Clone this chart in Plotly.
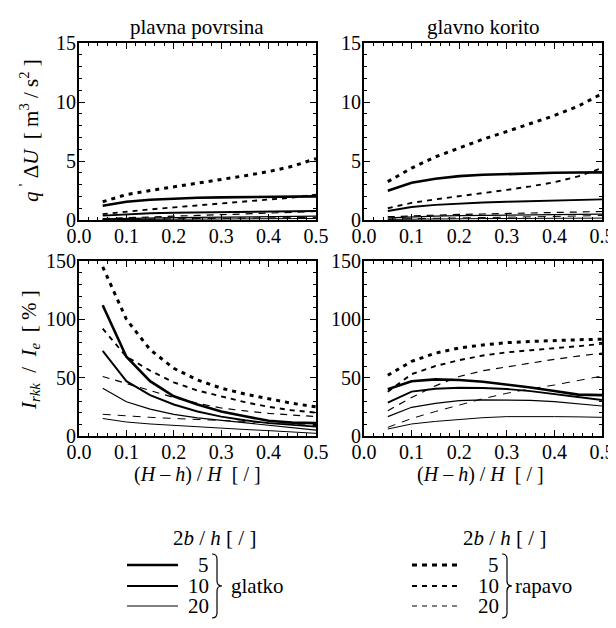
import plotly.graph_objects as go

# page is 616x628; the html body has an 8px margin, so the figure is 600x612
PAGE_OFF = 8
W, H = 600, 612

# ---------------- data ----------------
rel_depth = [0.05, 0.10, 0.15, 0.20, 0.25, 0.30, 0.35, 0.40, 0.45, 0.50]
ratios = ["5", "10", "20", "40"]

# q' dU  [m3/s2] - plavna povrsina (floodplain)
fp_q_smooth = {
    "5":  [1.20, 1.55, 1.72, 1.83, 1.88, 1.92, 1.94, 1.96, 1.98, 2.00],
    "10": [0.37, 0.50, 0.57, 0.62, 0.65, 0.67, 0.69, 0.71, 0.73, 0.76],
    "20": [0.10, 0.15, 0.18, 0.20, 0.22, 0.24, 0.26, 0.28, 0.30, 0.32],
    "40": [0.03, 0.05, 0.06, 0.07, 0.08, 0.09, 0.10, 0.11, 0.12, 0.13],
}
fp_q_rough = {
    "5":  [1.55, 2.15, 2.50, 2.80, 3.10, 3.45, 3.75, 4.10, 4.55, 5.20],
    "10": [0.50, 0.73, 0.90, 1.07, 1.24, 1.40, 1.55, 1.70, 1.90, 2.15],
    "20": [0.12, 0.20, 0.27, 0.33, 0.39, 0.45, 0.51, 0.57, 0.64, 0.72],
    "40": [0.04, 0.06, 0.08, 0.10, 0.12, 0.14, 0.16, 0.18, 0.20, 0.22],
}
# q' dU - glavno korito (main channel)
mc_q_smooth = {
    "5":  [2.48, 3.16, 3.50, 3.72, 3.83, 3.90, 3.95, 4.00, 4.02, 4.04],
    "10": [0.76, 1.10, 1.28, 1.40, 1.48, 1.55, 1.60, 1.65, 1.70, 1.75],
    "20": [0.18, 0.28, 0.33, 0.37, 0.40, 0.43, 0.45, 0.47, 0.49, 0.50],
    "40": [0.05, 0.08, 0.10, 0.11, 0.12, 0.13, 0.14, 0.15, 0.15, 0.16],
}
mc_q_rough = {
    "5":  [3.25, 4.40, 5.35, 6.10, 6.85, 7.50, 8.20, 8.85, 9.65, 10.70],
    "10": [1.00, 1.45, 1.75, 2.00, 2.25, 2.55, 2.85, 3.20, 3.70, 4.40],
    "20": [0.28, 0.36, 0.42, 0.47, 0.51, 0.55, 0.59, 0.63, 0.67, 0.72],
    "40": [0.08, 0.12, 0.15, 0.18, 0.21, 0.24, 0.27, 0.30, 0.34, 0.38],
}
# I_rkk / I_e [%] - plavna povrsina
fp_i_smooth = {
    "5":  [112, 68, 47, 34, 27, 21, 17, 13, 11.5, 11],
    "10": [73, 47, 35, 27, 21, 16.6, 13.5, 11, 9.5, 8],
    "20": [41, 29.4, 23, 18.6, 15.5, 13.5, 11.5, 9.5, 7.5, 5],
    "40": [15, 12, 10.3, 9, 7.8, 6.6, 5.6, 4.6, 3.5, 2.3],
}
fp_i_rough = {
    "5":  [145, 100, 74, 58, 48, 41, 36, 32, 28, 25],
    "10": [92, 68, 56, 46, 39, 34, 29, 25, 22, 20],
    "20": [51, 45, 39, 33, 28, 24, 21.5, 19.4, 18, 16.6],
    "40": [18.6, 17, 16, 15, 14.3, 13.7, 12.5, 11, 10, 9],
}
# I_rkk / I_e [%] - glavno korito
mc_i_smooth = {
    "5":  [40, 47, 48.5, 48, 46.5, 44.3, 41.5, 38.6, 35.5, 35],
    "10": [28.6, 38, 40.5, 41.4, 41.2, 40.3, 38.5, 36, 33.5, 30.9],
    "20": [16.6, 24.6, 28, 30.3, 30.9, 30.9, 30.5, 29.4, 27.8, 25.7],
    "40": [6, 10.3, 12.5, 14.3, 15.7, 16.6, 16.8, 16.6, 16.4, 16],
}
mc_i_rough = {
    "5":  [52, 64, 71, 75.5, 78, 80, 81, 82, 82.5, 83],
    "10": [38, 53, 60, 65, 69, 71.7, 73.5, 75, 77, 79],
    "20": [21.7, 33, 43, 51, 56, 59.4, 62.5, 65.7, 68.5, 71],
    "40": [7.4, 15, 21, 26.6, 32, 36.6, 40.5, 43.7, 47.5, 51.4],
}

x_ticks = [0.0, 0.1, 0.2, 0.3, 0.4, 0.5]
q_ticks = [0, 5, 10, 15]
i_ticks = [0, 50, 100, 150]

# ---------------- styles ----------------
FONT = "Liberation Serif"
smooth_style = {
    "5": dict(width=2.6, dash="solid"),
    "10": dict(width=1.9, dash="solid"),
    "20": dict(width=1.2, dash="solid"),
    "40": dict(width=1.0, dash="solid"),
}
rough_style = {
    "5": dict(width=3.0, dash="4px,5px"),
    "10": dict(width=1.9, dash="5px,5px"),
    "20": dict(width=1.2, dash="7px,6px"),
    "40": dict(width=1.0, dash="8px,7px"),
}


def px(x):
    return (x - PAGE_OFF) / W


def py(y):
    return 1 - (y - PAGE_OFF) / H


fig = go.Figure()

panels = [
    ("x", "y", fp_q_smooth, fp_q_rough),
    ("x2", "y2", mc_q_smooth, mc_q_rough),
    ("x3", "y3", fp_i_smooth, fp_i_rough),
    ("x4", "y4", mc_i_smooth, mc_i_rough),
]
for xa, ya, sm, ro in panels:
    for r in ratios:
        fig.add_trace(go.Scatter(x=rel_depth, y=ro[r], mode="lines", xaxis=xa, yaxis=ya,
                                 line=dict(color="black", **rough_style[r]), showlegend=False))
        fig.add_trace(go.Scatter(x=rel_depth, y=sm[r], mode="lines", xaxis=xa, yaxis=ya,
                                 line=dict(color="black", **smooth_style[r]), showlegend=False))

# panel boxes in page pixels
left_x = (79, 316)
right_x = (364, 602)
top_y = (43, 220)
bot_y = (261, 436)


def xaxis_cfg(dom, anchor):
    return dict(domain=[px(dom[0]), px(dom[1])], anchor=anchor, range=[0, 0.5],
                automargin=False, ticklabeloverflow="allow",
                tickvals=x_ticks, ticktext=[f"{v:.1f}" for v in x_ticks],
                ticks="inside", ticklen=6, tickwidth=1.3, tickcolor="black",
                minor=dict(dtick=0.02, tick0=0, ticks="inside", ticklen=3, tickwidth=1, tickcolor="black"),
                showline=True, linecolor="black", linewidth=1.8, mirror="ticks",
                showgrid=False, zeroline=False, ticklabelstandoff=-3,
                tickfont=dict(family=FONT, size=20, color="black"))


def yaxis_cfg(dom, anchor, rng, vals, minor_dt):
    return dict(domain=[py(dom[1]), py(dom[0])], anchor=anchor, range=rng,
                automargin=False, ticklabeloverflow="allow",
                tickvals=vals, ticks="inside", ticklen=6, tickwidth=1.3, tickcolor="black",
                minor=dict(dtick=minor_dt, tick0=0, ticks="inside", ticklen=3, tickwidth=1, tickcolor="black"),
                showline=True, linecolor="black", linewidth=1.8, mirror="ticks",
                showgrid=False, zeroline=False, ticklabelstandoff=-3,
                tickfont=dict(family=FONT, size=20, color="black"))


fig.update_layout(
    width=W, height=H, margin=dict(l=0, r=0, t=0, b=0, autoexpand=False),
    paper_bgcolor="white", plot_bgcolor="white",
    font=dict(family=FONT, color="black"),
    showlegend=False,
    xaxis=xaxis_cfg(left_x, "y"),
    yaxis=yaxis_cfg(top_y, "x", [0, 15], q_ticks, 1),
    xaxis2=xaxis_cfg(right_x, "y2"),
    yaxis2=yaxis_cfg(top_y, "x2", [0, 15], q_ticks, 1),
    xaxis3=xaxis_cfg(left_x, "y3"),
    yaxis3=yaxis_cfg(bot_y, "x3", [0, 150], i_ticks, 10),
    xaxis4=xaxis_cfg(right_x, "y4"),
    yaxis4=yaxis_cfg(bot_y, "x4", [0, 150], i_ticks, 10),
)

ann = []


def text(x, y, s, size=21, angle=0, xanchor="center"):
    ann.append(dict(x=px(x), y=py(y), xref="paper", yref="paper", text=s, showarrow=False,
                    xanchor=xanchor, yanchor="middle", textangle=angle,
                    font=dict(family=FONT, size=size, color="black")))


text(197, 27, "plavna povrsina")
text(483, 27, "glavno korito")
text(30, 131, "<i>q</i> <sup>'</sup> Δ<i>U</i>  [ m<sup>3</sup> / s<sup>2</sup> ]", size=21, angle=-90)
text(30, 350, "<i>I</i><sub><i>rkk</i></sub>  /  <i>I</i><sub><i>e</i></sub>  [ % ]", size=21, angle=-90)
text(197, 474, "(<i>H</i> – <i>h</i>) / <i>H</i>  [ / ]", size=20)
text(480, 474, "(<i>H</i> – <i>h</i>) / <i>H</i>  [ / ]", size=20)
text(214, 538, "2<i>b</i> / <i>h</i> [ / ]", size=21)
text(504, 538, "2<i>b</i> / <i>h</i> [ / ]", size=21)

legend_rows = [565, 586, 606]
for i, r in enumerate(ratios[:3]):
    text(211, legend_rows[i], r, size=21, xanchor="right")
    text(501, legend_rows[i], r, size=21, xanchor="right")
text(229, 586, "glatko", size=21, xanchor="left")
text(513, 586, "rapavo", size=21, xanchor="left")
fig.update_layout(annotations=ann)

shapes = []
for i, r in enumerate(ratios[:3]):
    y = legend_rows[i]
    shapes.append(dict(type="line", xref="paper", yref="paper", x0=px(127), x1=px(178),
                       y0=py(y), y1=py(y), line=dict(color="black", width=smooth_style[r]["width"])))
    shapes.append(dict(type="line", xref="paper", yref="paper", x0=px(412), x1=px(462),
                       y0=py(y), y1=py(y),
                       line=dict(color="black", width=rough_style[r]["width"], dash="5px,5px")))


def brace(x0, top, bot):
    mid = (top + bot) / 2
    x1, x2, r = x0 + 5, x0 + 10, 5
    pts = [
        f"M {px(x0)},{py(top)}",
        f"Q {px(x1)},{py(top)} {px(x1)},{py(top + r)}",
        f"L {px(x1)},{py(mid - r)}",
        f"Q {px(x1)},{py(mid)} {px(x2)},{py(mid)}",
        f"Q {px(x1)},{py(mid)} {px(x1)},{py(mid + r)}",
        f"L {px(x1)},{py(bot - r)}",
        f"Q {px(x1)},{py(bot)} {px(x0)},{py(bot)}",
    ]
    return dict(type="path", xref="paper", yref="paper", path=" ".join(pts),
                line=dict(color="black", width=1.2))


shapes.append(brace(212, 554, 618))
shapes.append(brace(502, 554, 618))
fig.update_layout(shapes=shapes)

fig.write_html("out.html")
